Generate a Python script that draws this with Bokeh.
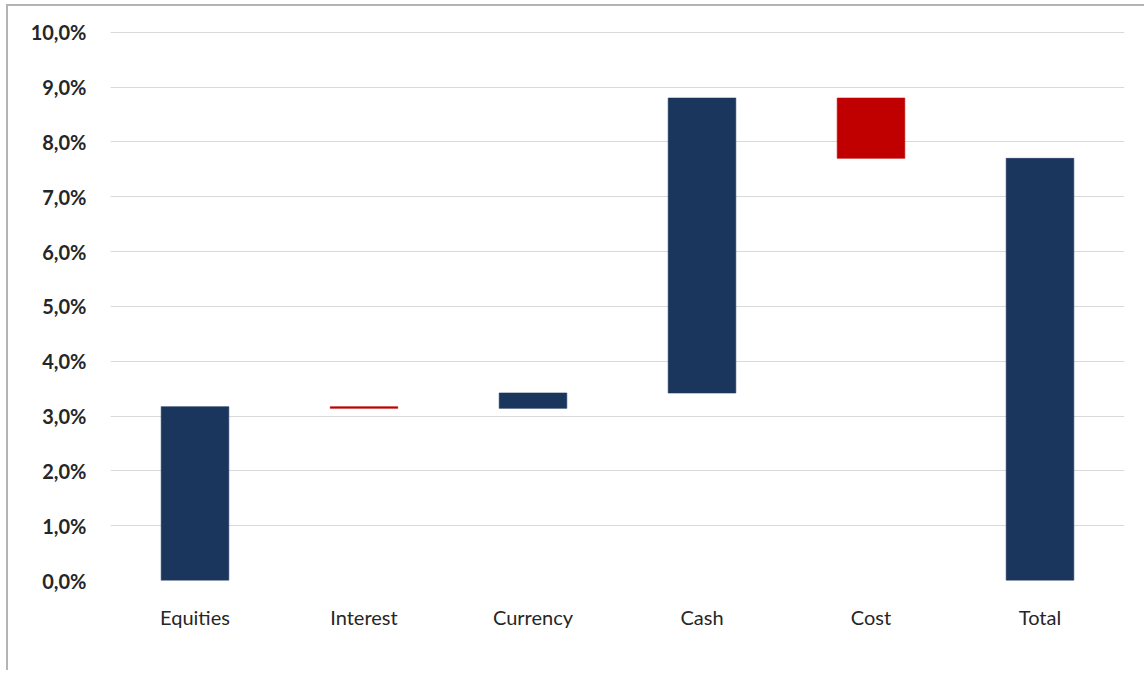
from bokeh.plotting import figure
from bokeh.models import ColumnDataSource, CustomJSTickFormatter, Range1d
from bokeh.embed import file_html
from bokeh.resources import INLINE

# ---- data (percent points) ----
categories = ["Equities", "Interest", "Currency", "Cash", "Cost", "Total"]
deltas = [3.17, -0.03, 0.28, 5.38, -1.10]   # contributions
total = 7.70
y_ticks = [0, 1, 2, 3, 4, 5, 6, 7, 8, 9, 10]

NAVY = "#1a365d"
RED = "#c00000"

bottoms, tops, colors = [], [], []
run = 0.0
for d in deltas:
    start = run
    run = run + d
    bottoms.append(min(start, run))
    tops.append(max(start, run))
    colors.append(NAVY if d >= 0 else RED)
bottoms.append(0.0)
tops.append(total)
colors.append(NAVY)

src = ColumnDataSource(dict(cat=categories, bottom=bottoms, top=tops, color=colors))

p = figure(x_range=categories, y_range=Range1d(0, 10.05), width=1138, height=666,
           output_backend="svg", toolbar_location=None, tools="",
           min_border_left=102, min_border_right=22, min_border_top=23, min_border_bottom=92)
p.styles = {"border-left": "2px solid #b4b4b4", "border-top": "2px solid #b4b4b4",
            "margin-left": "6px", "margin-top": "4px"}
p.outline_line_color = None

p.vbar(x="cat", bottom="bottom", top="top", width=0.4, source=src,
       fill_color="color", line_color="color", line_alpha=0.6)

p.yaxis.ticker = y_ticks
p.yaxis.formatter = CustomJSTickFormatter(code="return tick.toFixed(1).replace('.', ',') + '%';")
p.yaxis.axis_line_color = None
p.yaxis.major_tick_line_color = None
p.yaxis.minor_tick_line_color = None
p.yaxis.major_label_text_font = "Lato"
p.yaxis.major_label_text_font_style = "bold"
p.yaxis.major_label_text_font_size = "20px"
p.yaxis.major_label_text_color = "#262626"
p.yaxis.major_label_standoff = 18

p.xaxis.axis_line_color = None
p.xaxis.major_tick_line_color = None
p.xaxis.minor_tick_line_color = None
p.xaxis.major_label_text_font = "Lato"
p.xaxis.major_label_text_font_size = "20px"
p.xaxis.major_label_text_color = "#262626"
p.xaxis.major_label_standoff = 18

p.xgrid.grid_line_color = None
p.ygrid.grid_line_color = "#d9d9d9"
p.ygrid.grid_line_width = 1.2

open("out.html", "w").write(file_html(p, INLINE))
